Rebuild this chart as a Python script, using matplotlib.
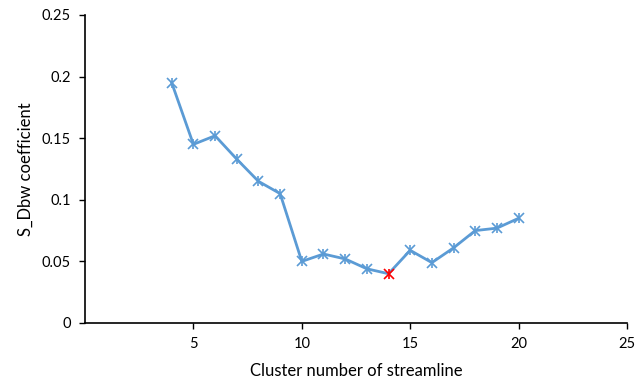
import matplotlib
matplotlib.use("Agg")
import matplotlib.pyplot as plt

# cluster counts and S_Dbw values
clusters = [4, 5, 6, 7, 8, 9, 10, 11, 12, 13, 14, 15, 16, 17, 18, 19, 20]
sdbw = [0.195, 0.145, 0.152, 0.133, 0.115, 0.105, 0.050, 0.056, 0.052,
        0.044, 0.040, 0.059, 0.049, 0.061, 0.075, 0.077, 0.085]
best = 14
x_ticks = [5, 10, 15, 20, 25]
y_ticks = [0, 0.05, 0.1, 0.15, 0.2, 0.25]
y_labels = ["0", "0.05", "0.1", "0.15", "0.2", "0.25"]

plt.rcParams['font.family'] = ['Lato', 'DejaVu Sans']
blue = '#5B9BD5'

fig = plt.figure(figsize=(6.43, 3.81), dpi=100)
ax = fig.add_axes([85/643, 58/381, 542/643, 308/381])

ax.plot(clusters, sdbw, color=blue, lw=2, zorder=2)
others = [(c, v) for c, v in zip(clusters, sdbw) if c != best]
ox = [c for c, v in others]
oy = [v for c, v in others]
for m in ['x', '|']:
    ax.plot(ox, oy, ls='none', marker=m, ms=7, mew=1.2, color=blue, zorder=3)
    ax.plot([best], [sdbw[clusters.index(best)]], ls='none', marker=m,
            ms=7, mew=1.2, color='red', zorder=4)

ax.set_xlim(0, 25)
ax.set_ylim(0, 0.25)
ax.set_xticks(x_ticks)
ax.set_yticks(y_ticks)
ax.set_yticklabels(y_labels)
ax.tick_params(labelsize=10.5, length=4, width=1, direction='out', pad=6)
ax.spines['top'].set_visible(False)
ax.spines['right'].set_visible(False)
for s in ['left', 'bottom']:
    ax.spines[s].set_linewidth(1.2)
ax.set_xlabel('Cluster number of streamline', fontsize=12, labelpad=9)
ax.set_ylabel('S_Dbw coefficient', fontsize=12)
ax.yaxis.set_label_coords(-0.094, 0.5)

fig.savefig('out.png', dpi=100)
